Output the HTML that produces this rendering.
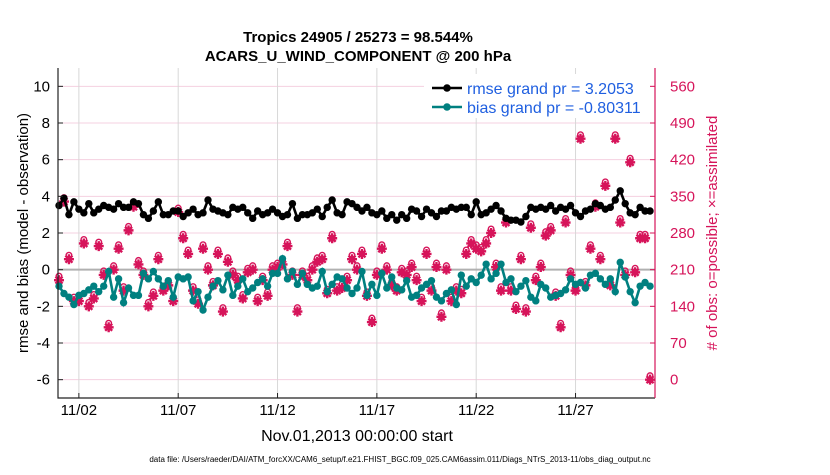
<!DOCTYPE html>
<html><head><meta charset="utf-8">
<style>
body{margin:0;background:#fff;font-family:"Liberation Sans",sans-serif;}
svg text{font-family:"Liberation Sans",sans-serif;}
</style></head>
<body>
<svg id="chart" width="830" height="470" viewBox="0 0 830 470" xmlns="http://www.w3.org/2000/svg">
<rect width="830" height="470" fill="#fff"/>
<g id="grid"></g>
<g id="series"></g>
<g id="axes"></g>
<text x="358" y="42" font-size="15" font-weight="bold" text-anchor="middle">Tropics 24905 / 25273 = 98.544%</text>
<text x="358" y="61" font-size="15" font-weight="bold" text-anchor="middle">ACARS_U_WIND_COMPONENT @ 200 hPa</text>
<text transform="translate(28,233) rotate(-90)" font-size="15" text-anchor="middle">rmse and bias (model - observation)</text>
<text transform="translate(717,233) rotate(-90)" font-size="15" text-anchor="middle" fill="#d6145a">#  of obs: o=possible; ×=assimilated</text>
<text x="357" y="441" font-size="16" text-anchor="middle">Nov.01,2013 00:00:00 start</text>
<text x="400" y="462" font-size="8" text-anchor="middle">data file: /Users/raeder/DAI/ATM_forcXX/CAM6_setup/f.e21.FHIST_BGC.f09_025.CAM6assim.011/Diags_NTrS_2013-11/obs_diag_output.nc</text>
<g>
<rect x="424" y="74" width="226" height="44" fill="#fff"/>
<line x1="432" y1="88" x2="462" y2="88" stroke="#000" stroke-width="2.5"/>
<circle cx="447" cy="88" r="3.8" fill="#000"/>
<text x="467" y="94" font-size="16" fill="#1f5fe0">rmse grand pr = 3.2053</text>
<line x1="432" y1="107" x2="462" y2="107" stroke="#008080" stroke-width="2.5"/>
<circle cx="447" cy="107" r="3.8" fill="#008080"/>
<text x="467" y="113" font-size="16" fill="#1f5fe0">bias grand pr = -0.80311</text>
</g>
</svg>
<script>
const rmse = [3.5,3.9,3.0,3.7, 3.3,3.1,3.6,3.1, 3.3,3.5,3.4,3.3, 3.6,3.4,3.4,3.7, 3.6,3.0,2.8,3.2, 3.7,3.0,3.0,3.2, 3.2,2.9,3.1,3.3, 3.0,3.1,3.8,3.3, 3.2,3.1,3.0,3.4, 3.3,3.4,3.1,2.8, 3.2,3.0,3.1,3.3, 3.1,2.9,3.0,3.6, 2.8,3.0,3.0,3.1, 3.3,2.9,3.4,3.8, 3.1,3.0,3.7,3.6, 3.4,3.2,3.4,3.1, 3.0,3.2,2.8,3.0, 2.7,3.0,2.8,3.3, 3.2,2.9,3.3,3.1, 2.9,3.2,3.2,3.4, 3.3,3.4,3.4,3.0, 3.7,3.0,3.1,3.3, 3.5,3.2,2.8,2.7, 2.7,2.6,2.9,3.4, 3.3,3.4,3.3,3.5, 3.2,3.4,3.3,3.5, 3.1,2.9,3.2,3.3, 3.6,3.5,3.3,3.4, 3.8,4.3,3.6,3.1, 3.0,3.4,3.2,3.2];
const bias = [-0.9,-1.3,-1.5,-1.9, -1.4,-1.3,-1.1,-0.9, -1.2,-0.9,-0.1,-1.5, -0.5,-1.8,-1.0,-1.4, -1.4,-0.2,-0.5,-0.1, -0.5,-0.9,-0.6,-1.5, -0.4,-0.5,-0.4,-1.7, -1.2,-2.2,-1.5,-0.9, -0.6,-1.1,-0.3,-1.4, -0.9,-0.5,-1.2,-1.0, -0.7,-0.5,-0.9,-0.2, -0.2,0.6,-0.5,-0.1, -0.8,-0.2,-0.8,-1.0, -0.9,-0.1,-1.2,-0.8, -0.4,-0.5,-1.0,-1.3, -1.0,-0.1,-1.4,-0.8, -1.4,-0.2,-1.0,-0.4, -1.0,-1.1,-0.6,-1.5, -1.4,-1.0,-0.8,-0.6, -1.5,-1.7,-1.3,-1.1, -1.9,-0.3,-0.9,-0.5, -0.7,-0.3,0.3,-0.5, -0.2,0.3,-0.7,-0.5, -1.2,-0.9,-0.6,-1.5, -1.7,-0.8,-1.0,-1.5, -1.4,-1.3,-1.1,-0.5, -0.8,-0.7,-1.0,-0.3, -0.2,-0.5,-0.8,-0.5, -1.2,0.4,-0.4,-1.2, -1.8,-0.9,-0.7,-0.9];
const obsUsed = [190,340,230,150, 150,260,140,155, 255,200,100,210, 250,170,285,330, 220,200,140,160, 230,170,180,150, 320,270,240,170, 145,250,210,180, 240,130,225,200, 190,155,205,210, 150,190,160,210, 215,220,255,200, 130,200,190,210, 225,230,165,270, 170,175,190,230, 210,240,160,110, 200,250,210,180, 170,205,200,215, 190,150,240,170, 215,120,210,150, 170,165,240,260, 250,245,260,280, 215,170,300,170, 135,230,130,290, 190,215,275,285, 160,100,300,200, 170,460,180,250, 330,230,370,180, 460,300,200,415, 205,270,270,0];
const xTickDays = [1,6,11,16,21,26];
const xTickLabels = ["11/02","11/07","11/12","11/17","11/22","11/27"];
const leftTicks = [-6,-4,-2,0,2,4,6,8,10];
const rightTicks = [0,70,140,210,280,350,420,490,560];

const NS="http://www.w3.org/2000/svg";
const L=58,R=655,T=68,B=398;
const xS=d=>59+d*(R-59)/30;
const yL=v=>B-(v+7)*(B-T)/18;
const yR=n=>yL(-6+n/35);
function mk(tag,attrs,parent){const e=document.createElementNS(NS,tag);for(const k in attrs)e.setAttribute(k,attrs[k]);parent.appendChild(e);return e;}
const grid=document.getElementById('grid'),ser=document.getElementById('series'),ax=document.getElementById('axes');

for(let i=0;i<rightTicks.length;i++){
  const y=yR(rightTicks[i]);
  const g=mk('line',{x1:L,x2:R,y1:y,y2:y,stroke:'#f4d0e0','stroke-width':1},grid);
  
  
}
for(let i=0;i<xTickDays.length;i++){
  const x=xS(xTickDays[i]);
  const g=mk('line',{x1:x,x2:x,y1:T,y2:B,stroke:'#d8d8d8','stroke-width':1},grid);
  
  
}
const z=mk('line',{x1:L,x2:R,y1:yL(0),y2:yL(0),stroke:'#b0b0b0','stroke-width':2},grid);



for(let i=0;i<obsUsed.length;i++){
  const x=xS(i*0.25),y=yR(obsUsed[i]);
  const g=mk('g',{},ser);
  
  
  mk('circle',{cx:x,cy:y-4,r:2.8,fill:'none',stroke:'#d6145a','stroke-width':1.4},g);
  mk('path',{d:`M${x-5} ${y}h10M${x} ${y-5}v10M${x-3.5} ${y-3.5}l7 7M${x+3.5} ${y-3.5}l-7 7`,stroke:'#d6145a','stroke-width':2.4},g);
  mk('circle',{cx:x,cy:y,r:3.2,fill:'#d6145a'},g);
}
function line(arr,color,name){
  let d='';
  for(let i=0;i<arr.length;i++)d+=(i?'L':'M')+xS(i*0.25).toFixed(1)+' '+yL(arr[i]).toFixed(1);
  const p=mk('path',{d:d,fill:'none',stroke:color,'stroke-width':2.6},ser);
  
  
  for(let i=0;i<arr.length;i++){
    const c=mk('circle',{cx:xS(i*0.25),cy:yL(arr[i]),r:3.7,fill:color},ser);
    
    
  }
}
line(rmse,'#000','rmse');
line(bias,'#008080','bias');

const f=mk('path',{d:`M${L} ${T}V${B}H${R}`,fill:'none',stroke:'#222','stroke-width':1.2},ax);


const ra=mk('line',{x1:R,x2:R,y1:T,y2:B,stroke:'#d6145a','stroke-width':1.2},ax);


for(let i=0;i<leftTicks.length;i++){
  const y=yL(leftTicks[i]);
  mk('line',{x1:L,x2:L+5,y1:y,y2:y,stroke:'#222'},ax);
  const t=mk('text',{x:L-8,y:y+5,'font-size':15,'text-anchor':'end'},ax);
  t.textContent=leftTicks[i];
  
  
}
for(let i=0;i<rightTicks.length;i++){
  const y=yR(rightTicks[i]);
  mk('line',{x1:R-5,x2:R,y1:y,y2:y,stroke:'#d6145a'},ax);
  const t=mk('text',{x:R+15,y:y+5,'font-size':15,fill:'#d6145a'},ax);
  t.textContent=rightTicks[i];
  
  
}
for(let i=0;i<xTickDays.length;i++){
  const x=xS(xTickDays[i]);
  mk('line',{x1:x,x2:x,y1:B-5,y2:B,stroke:'#222'},ax);
  const t=mk('text',{x:x,y:B+17,'font-size':15,'text-anchor':'middle'},ax);
  t.textContent=xTickLabels[i];
  
  
}
</script>
</body></html>
